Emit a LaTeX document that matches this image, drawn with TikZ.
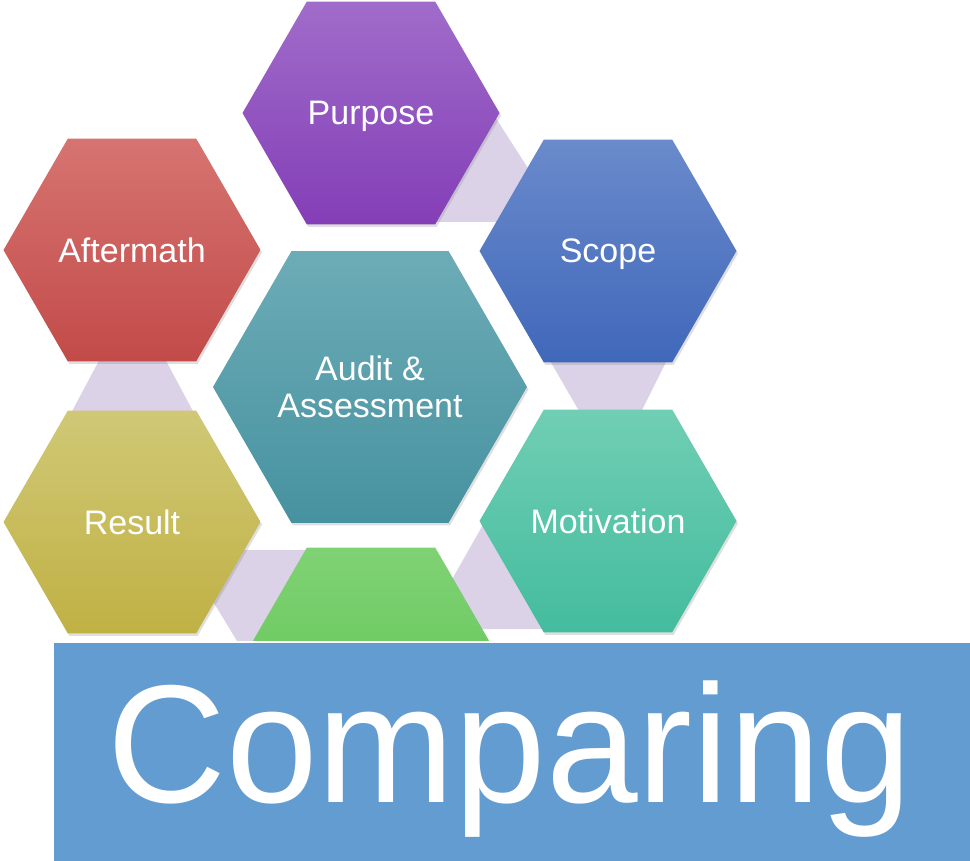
\documentclass[tikz,border=0pt]{standalone}
\usepackage{fontspec}
\setmainfont{Liberation Sans}
\usetikzlibrary{shapes.geometric,shadows}

\definecolor{lavender}{RGB}{220,210,232}
\definecolor{purpleTop}{RGB}{160,108,202}
\definecolor{purpleBot}{RGB}{132,62,183}
\definecolor{redTop}{RGB}{214,116,113}
\definecolor{redBot}{RGB}{194,75,73}
\definecolor{blueTop}{RGB}{106,138,203}
\definecolor{blueBot}{RGB}{64,104,186}
\definecolor{tealTop}{RGB}{108,172,182}
\definecolor{tealBot}{RGB}{71,146,160}
\definecolor{yellowTop}{RGB}{208,200,118}
\definecolor{yellowBot}{RGB}{192,177,68}
\definecolor{mintTop}{RGB}{112,206,180}
\definecolor{mintBot}{RGB}{68,188,158}
\definecolor{greenTop}{RGB}{128,210,116}
\definecolor{greenBot}{RGB}{90,195,80}
\definecolor{bannerBlue}{RGB}{99,156,208}

\tikzset{
    hexa/.style={
        regular polygon, regular polygon sides=6,
        minimum size=257pt, inner sep=0pt, outer sep=0pt,
        text=white, text depth=0pt, font=\fontsize{34}{37}\selectfont,
        drop shadow={opacity=0.25,shadow xshift=1.5pt,shadow yshift=-2.5pt}
    },
}

\begin{document}
\begin{tikzpicture}[x=1pt,y=-1pt]
    \useasboundingbox (0,0) rectangle (970,861);
    % lavender links behind the ring
    \path[fill=lavender]
        (476,87) -- (540,187) -- (540,222) -- (430,222) -- cycle
        (538,340) -- (677,340) -- (632,430) -- (590,430) -- cycle
        (110,340) -- (155,340) -- (203,430) -- (62,430) -- cycle
        (230,550) -- (320,550) -- (320,641) -- (237,641) -- (200,580) -- cycle
        (497,500) -- (446,590) -- (470,629) -- (560,629) -- (560,500) -- cycle
    ;
    \node[hexa, top color=purpleTop, bottom color=purpleBot] (purpose) at (371,113) {Purpose};
    \node[hexa, top color=redTop, bottom color=redBot] (aftermath) at (132,250) {Aftermath};
    \node[hexa, top color=blueTop, bottom color=blueBot] (scope) at (608,251) {Scope};
    \node[hexa, top color=yellowTop, bottom color=yellowBot] (result) at (132,522) {Result};
    \node[hexa, top color=mintTop, bottom color=mintBot] (motivation) at (608,521) {Motivation};
    \node[hexa, top color=greenTop, bottom color=greenBot] (lower) at (371,659) {};
    \node[hexa, minimum size=314pt, align=center, top color=tealTop, bottom color=tealBot]
        (audit) at (370,387) {Audit \&\\Assessment};
    % title bar
    \node[rectangle, fill=bannerBlue, draw=white, line width=2pt,
        minimum width=918pt, minimum height=221pt, inner sep=0pt]
        (banner) at (512,752) {};
    \node[anchor=base, text=white, font=\fontsize{168}{168}\selectfont, inner sep=0pt]
        (title) at (510,802) {\scalebox{0.98}[1]{Comparing}};
\end{tikzpicture}
\end{document}
